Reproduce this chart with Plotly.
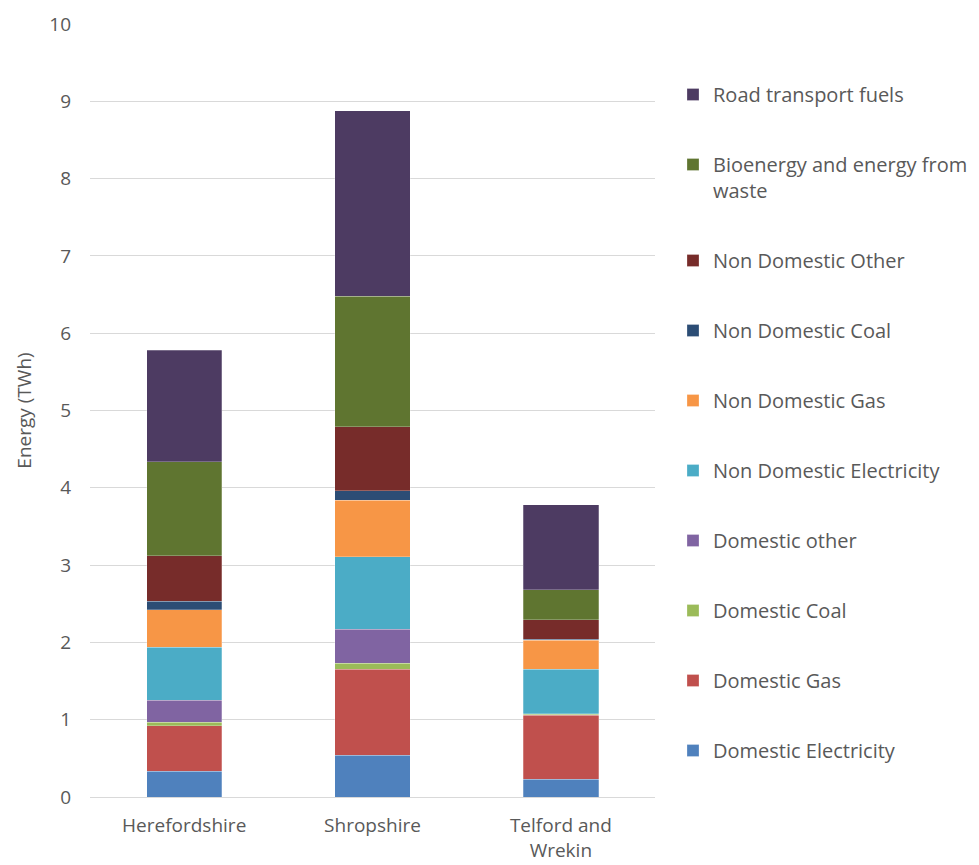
import plotly.graph_objects as go

# Energy consumption by sector (TWh)
areas = ["Herefordshire", "Shropshire", "Telford and<br>Wrekin"]

series_names = [
    "Domestic Electricity",
    "Domestic Gas",
    "Domestic Coal",
    "Domestic other",
    "Non Domestic Electricity",
    "Non Domestic Gas",
    "Non Domestic Coal",
    "Non Domestic Other",
    "Bioenergy and energy from<br>waste",
    "Road transport fuels",
]

domestic_electricity = [0.33, 0.54, 0.23]
domestic_gas = [0.59, 1.11, 0.83]
domestic_coal = [0.05, 0.08, 0.01]
domestic_other = [0.28, 0.44, 0.01]
non_domestic_electricity = [0.69, 0.94, 0.57]
non_domestic_gas = [0.48, 0.73, 0.38]
non_domestic_coal = [0.11, 0.12, 0.01]
non_domestic_other = [0.59, 0.83, 0.25]
bioenergy_waste = [1.22, 1.69, 0.39]
road_transport = [1.44, 2.40, 1.10]

series_values = [
    domestic_electricity,
    domestic_gas,
    domestic_coal,
    domestic_other,
    non_domestic_electricity,
    non_domestic_gas,
    non_domestic_coal,
    non_domestic_other,
    bioenergy_waste,
    road_transport,
]

colors = [
    "#4F81BD", "#C0504D", "#9BBB59", "#8064A2", "#4BACC6",
    "#F79646", "#2C4D75", "#772C2A", "#5F7530", "#4D3B62",
]

FONT = "Open Sans"
GREY = "#595959"
SIZE = 20

fig = go.Figure()
for i, (name, vals, col) in enumerate(zip(series_names, series_values, colors)):
    fig.add_trace(go.Bar(
        x=areas, y=vals, name=name,
        marker=dict(color=col, line=dict(color="rgba(255,255,255,0.5)", width=0.5)),
        legendgroup=f"g{i}",
        legendrank=1000 - i,  # top series listed first
    ))

fig.update_layout(
    width=979, height=865,
    barmode="stack", bargap=0.6,
    plot_bgcolor="white", paper_bgcolor="white",
    margin=dict(l=90, r=324, t=24, b=68),
    font=dict(family=FONT, size=SIZE, color=GREY),
    showlegend=True,
    legend=dict(
        traceorder="grouped",
        tracegroupgap=41,
        xref="container", yref="container",
        x=673 / 979, xanchor="left",
        y=1 - 75 / 865, yanchor="top",
        font=dict(family=FONT, size=SIZE, color=GREY),
        valign="top",
        itemwidth=30,
        maxheight=830,
    ),
    yaxis=dict(
        range=[0, 10], dtick=1, automargin=False,
        showgrid=True, gridcolor="#D9D9D9", gridwidth=1,
        zeroline=False, showline=False,
        ticks="", ticklen=0,
        ticklabelstandoff=18,
        tickfont=dict(family=FONT, size=19, color=GREY),
        title=dict(text="Energy (TWh)", font=dict(family=FONT, size=19, color=GREY), standoff=12),
    ),
    xaxis=dict(
        automargin=False,
        showline=True, linecolor="#D9D9D9", linewidth=1,
        ticks="", showgrid=False,
        ticklabelstandoff=11,
        tickfont=dict(family=FONT, size=19, color=GREY),
    ),
)

fig.write_html("out.html")
